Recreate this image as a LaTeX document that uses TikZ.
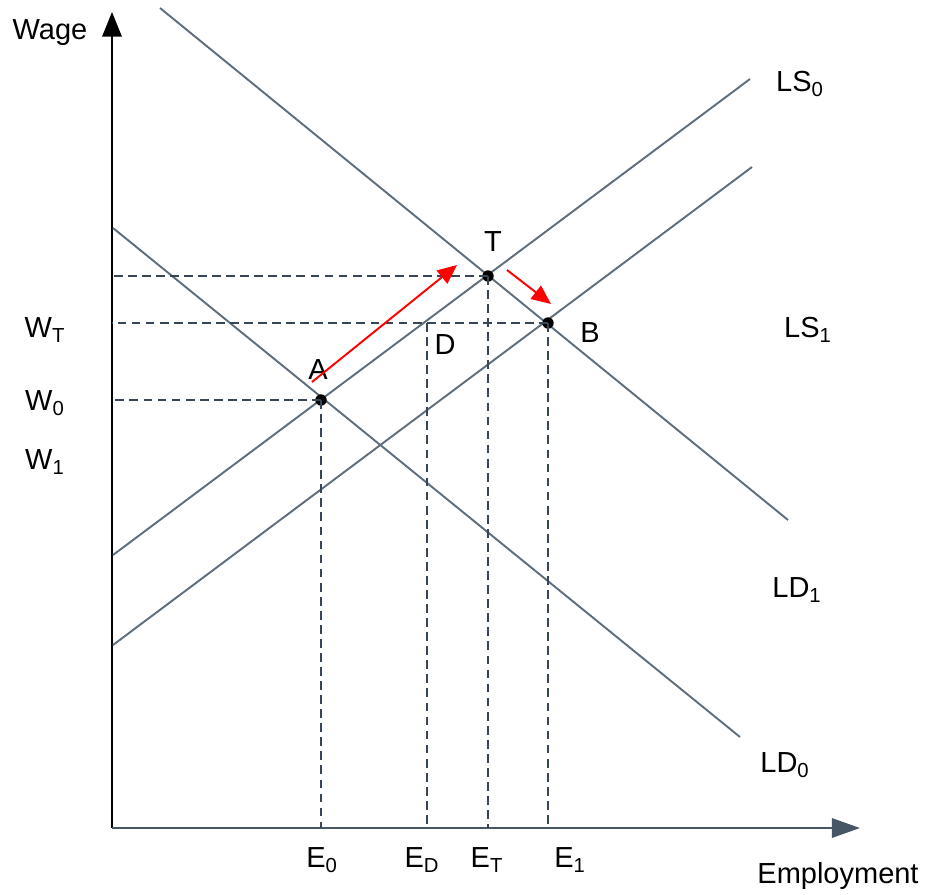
\documentclass[tikz,border=0pt]{standalone}
\usepackage{fontspec}
\setmainfont{Liberation Sans}
\usetikzlibrary{arrows.meta,positioning,calc}

\definecolor{curvegray}{RGB}{95,110,124}
\definecolor{dashgray}{RGB}{55,70,86}
\definecolor{axisgray}{RGB}{70,86,102}

\begin{document}
\begin{tikzpicture}[x=0.02cm, y=-0.02cm,
  curve/.style={draw=curvegray, line width=1.1pt},
  guide/.style={draw=dashgray, line width=0.9pt, dash pattern=on 5pt off 3pt},
  eqdot/.style={circle, fill=black, inner sep=0pt, minimum size=6.5pt},
  shiftar/.style={-{Triangle[length=11pt,width=9.5pt]}, red, line width=1.1pt},
  lbl/.style={font=\fontsize{16.5}{20}\selectfont, inner sep=1pt},
]
\useasboundingbox (0,0) rectangle (926,894);

%--- Axes ---
\coordinate (O)  at (112,828);
\coordinate (ytop) at (112,12);
\coordinate (xend) at (860,828);
\draw[black, line width=1.3pt, -{Triangle[length=14pt,width=11pt]}] (O) -- (ytop);
\draw[axisgray, line width=1.3pt, -{Triangle[length=16pt,width=11pt]}] (O) -- (xend);
\node[lbl] (wage) at (50,33) {Wage};
\node[lbl] (empl) at (838,876) {Employment};

%--- Supply and demand curves ---
\coordinate (ls0a) at (113,555); \coordinate (ls0b) at (750,79);
\coordinate (ls1a) at (113,645); \coordinate (ls1b) at (752,167);
\coordinate (ld1a) at (160,8);   \coordinate (ld1b) at (788,520);
\coordinate (ld0a) at (113,228); \coordinate (ld0b) at (740,737);
\draw[curve] (ls0a) -- (ls0b);
\draw[curve] (ls1a) -- (ls1b);
\draw[curve] (ld1a) -- (ld1b);
\draw[curve] (ld0a) -- (ld0b);

\node[lbl] (ls0) at (800,84)  {LS\textsubscript{0}};
\node[lbl] (ls1) at (808,330) {LS\textsubscript{1}};
\node[lbl] (ld1) at (797,590) {LD\textsubscript{1}};
\node[lbl] (ld0) at (785,765) {LD\textsubscript{0}};

%--- Equilibrium points ---
\node[eqdot] (T) at (488,276) {};
\node[eqdot] (A) at (321,400) {};
\node[eqdot] (B) at (548,323) {};
\coordinate (D) at (427,323);

\node[lbl] (tT) at (493,242) {T};
\node[lbl] (tA) at (318,370) {A};
\node[lbl] (tB) at (590,333) {B};
\node[lbl] (tD) at (445,345) {D};

%--- Dashed guides ---
\draw[guide] (T.center) -- (T.center -| O);
\draw[guide] (B.center) -- (B.center -| O);
\draw[guide] (A.center) -- (A.center -| O);
\draw[guide] (A.center) -- (A.center |- O);
\draw[guide] (D) -- (D |- O);
\draw[guide] (T.center) -- (T.center |- O);
\draw[guide] (B.center) -- (B.center |- O);

%--- Wage and employment labels ---
\node[lbl] (wT) at (45,330) {W\textsubscript{T}};
\node[lbl] (w0) at (45,403) {W\textsubscript{0}};
\node[lbl] (w1) at (45,462) {W\textsubscript{1}};
\node[lbl] (e0) at (322,860) {E\textsubscript{0}};
\node[lbl] (eD) at (422,860) {E\textsubscript{D}};
\node[lbl] (eT) at (487,860) {E\textsubscript{T}};
\node[lbl] (e1) at (570,860) {E\textsubscript{1}};

%--- Shifts ---
\coordinate (s1a) at (312,382); \coordinate (s1b) at (457,265);
\coordinate (s2a) at (507,270); \coordinate (s2b) at (551,304);
\draw[shiftar] (s1a) -- (s1b);
\draw[shiftar] (s2a) -- (s2b);

\end{tikzpicture}
\end{document}
